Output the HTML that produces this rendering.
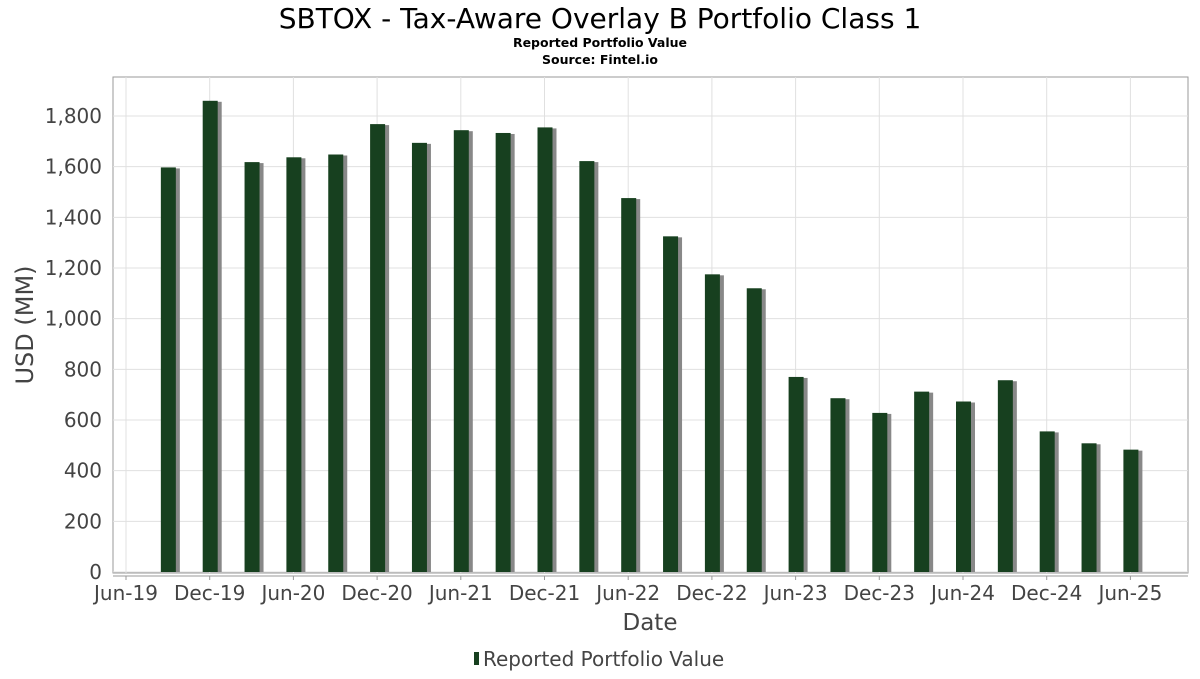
<!DOCTYPE html>
<html><head><meta charset="utf-8"><style>
body{margin:0;background:#fff;font-family:"DejaVu Sans","Liberation Sans",sans-serif;}
svg text{font-family:"DejaVu Sans","Liberation Sans",sans-serif;}
</style></head><body>
<svg id="chart" width="1200" height="675" xmlns="http://www.w3.org/2000/svg">
<text x="600" y="28" text-anchor="middle" font-size="28" fill="#000">SBTOX - Tax-Aware Overlay B Portfolio Class 1</text>
<text x="600" y="47" text-anchor="middle" font-size="12.5" font-weight="bold" fill="#000">Reported Portfolio Value</text>
<text x="600" y="64" text-anchor="middle" font-size="12.5" font-weight="bold" fill="#000">Source: Fintel.io</text>
<rect x="113" y="77" width="1075" height="496" fill="#fff" stroke="#999"/>
<g id="grid"></g><g id="bars"></g><g id="axes"></g>
<text x="33" y="325" text-anchor="middle" font-size="24" fill="#444" transform="rotate(-90 33 325)">USD (MM)</text>
<text x="650" y="630" text-anchor="middle" font-size="23" fill="#444">Date</text>
<g>
<rect x="474" y="652" width="5" height="13" fill="#17401f"/>
<text x="483" y="666" font-size="20" fill="#444">Reported Portfolio Value</text>
</g>
</svg>
<script>
const categories=["Sep-19","Dec-19","Mar-20","Jun-20","Sep-20","Dec-20","Mar-21","Jun-21","Sep-21","Dec-21","Mar-22","Jun-22","Sep-22","Dec-22","Mar-23","Jun-23","Sep-23","Dec-23","Mar-24","Jun-24","Sep-24","Dec-24","Mar-25","Jun-25"];
const values=[1597,1860,1618,1637,1648,1768,1694,1744,1733,1755,1622,1476,1325,1175,1120,770,686,628,712,673,757,555,508,483];
const yTicks=[0,200,400,600,800,1000,1200,1400,1600,1800];
const xTickLabels=["Jun-19","Dec-19","Jun-20","Dec-20","Jun-21","Dec-21","Jun-22","Dec-22","Jun-23","Dec-23","Jun-24","Dec-24","Jun-25"];
const NS="http://www.w3.org/2000/svg";
const mon={Jan:0,Feb:1,Mar:2,Apr:3,May:4,Jun:5,Jul:6,Aug:7,Sep:8,Oct:9,Nov:10,Dec:11};
function mIdx(s){const[p,y]=s.split("-");return (2000+ +y)*12+mon[p]-(2019*12+5);}
function xs(s){return 126+mIdx(s)*13.95;}
function ys(v){return 572-v*(456/1800);}
function mk(t,a,p){const e=document.createElementNS(NS,t);for(const k in a)e.setAttribute(k,a[k]);p.appendChild(e);return e;}
const grid=document.getElementById("grid"),bars=document.getElementById("bars"),axes=document.getElementById("axes");
yTicks.forEach(v=>{
 const l=mk("line",{x1:113,x2:1188,y1:ys(v),y2:ys(v),stroke:"#e0e0e0"},grid);
 
 
 const t=mk("text",{x:102,y:ys(v)+7,"text-anchor":"end","font-size":20,fill:"#444"},axes);
 t.textContent=v.toLocaleString("en-US");
 
 
});
xTickLabels.forEach(s=>{
 const l=mk("line",{x1:xs(s),x2:xs(s),y1:77,y2:573,stroke:"#e0e0e0"},grid);
 
 
 mk("line",{x1:xs(s),x2:xs(s),y1:576,y2:580,stroke:"#999"},axes);
 const t=mk("text",{x:xs(s),y:600,"text-anchor":"middle","font-size":20,fill:"#444"},axes);
 t.textContent=s;
 
 
});
mk("line",{x1:113,x2:1188,y1:576,y2:576,stroke:"#999"},axes);
categories.forEach((c,i)=>{
 const cx=xs(c)+1,y=ys(values[i]);
 const sh=mk("rect",{x:cx-4,y:y+1,width:15,height:572-y-1,fill:"#888"},bars);
 
 
 const b=mk("rect",{x:cx-8,y:y,width:15,height:572-y,fill:"#17401f"},bars);
 
 
});
</script>
</body></html>
